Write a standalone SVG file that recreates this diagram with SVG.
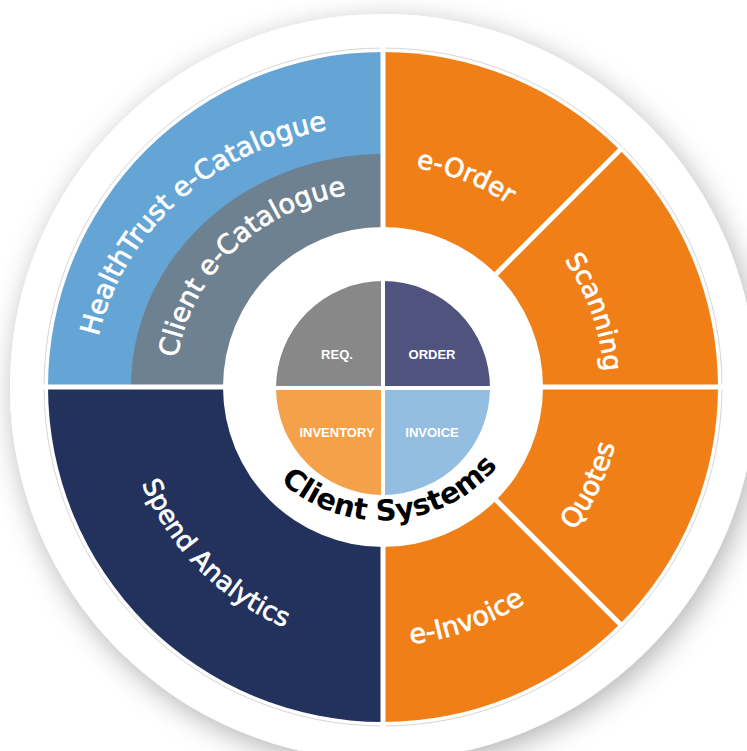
<svg xmlns="http://www.w3.org/2000/svg" width="747" height="751" viewBox="0 0 747 751">
  <defs>
    <filter id="shadow" x="-20%" y="-20%" width="140%" height="140%">
      <feDropShadow dx="4" dy="7" stdDeviation="14" flood-color="#000" flood-opacity="0.3"/>
    </filter>
    <path id="p-healthtrust" d="M183.9,580.1 A292,264 0 0 1 582.1,193.9"/>
    <path id="p-clientcat" d="M241.1,529.6 A208,195 0 0 1 524.9,244.4"/>
    <path id="p-eorder" d="M173.7,304.5 A225,225 0 0 1 592.3,469.5"/>
    <path id="p-scanning" d="M307.6,174.0 A226,226 0 0 1 458.4,600.0"/>
    <path id="p-quotes" d="M278.4,606.3 A243,243 0 0 0 487.6,167.7"/>
    <path id="p-einvoice" d="M136.5,475.7 A262,262 0 0 0 629.5,298.3"/>
    <path id="p-spend" d="M197.7,200.4 A263,263 0 0 0 568.3,573.6"/>
    <path id="p-clientsys" d="M233.4,397.5 A151,151 0 0 0 532.6,376.5"/>
  </defs>
  <style>
    .lbl { font-family: "DejaVu Sans", "Liberation Sans", sans-serif; fill: #ffffff; stroke: #ffffff; stroke-width: 0.7px; }
    .inner { font-family: "Liberation Sans", Arial, sans-serif; font-weight: bold; font-size: 13px; fill: #ffffff; text-anchor: middle; }
    .gap { stroke: #ffffff; stroke-width: 5; fill: none; }
    .gap2 { stroke: #ffffff; stroke-width: 4; fill: none; }
  </style>
  <rect width="747" height="751" fill="#ffffff"/>
  <g id="backdrop">
    <circle cx="383" cy="387" r="373" fill="#ffffff" filter="url(#shadow)"/>
    <circle cx="383" cy="387" r="339" fill="none" stroke="#d6d6d6" stroke-width="1"/>
  </g>

  <g id="healthtrust-ecatalogue">
    <path d="M383,387 L48,387 A335,335 0 0 1 383,52 Z" fill="#65A5D5"/>
    <text class="lbl" font-size="27"><textPath href="#p-healthtrust" startOffset="50%" text-anchor="middle">HealthTrust e-Catalogue</textPath></text>
  </g>
  <g id="client-ecatalogue">
    <path d="M383,387 L131,387 A252,233 0 0 1 383,154 Z" fill="#6E8190"/>
    <text class="lbl" font-size="27"><textPath href="#p-clientcat" startOffset="50%" text-anchor="middle">Client e-Catalogue</textPath></text>
  </g>
  <g id="eorder">
    <path d="M383,387 L383,52 A335,335 0 0 1 619.9,150.1 Z" fill="#F07F17"/>
    <text class="lbl" font-size="26"><textPath href="#p-eorder" startOffset="50%" text-anchor="middle">e-Order</textPath></text>
  </g>
  <g id="scanning">
    <path d="M383,387 L619.9,150.1 A335,335 0 0 1 718,387 Z" fill="#F07F17"/>
    <text class="lbl" font-size="26"><textPath href="#p-scanning" startOffset="50%" text-anchor="middle">Scanning</textPath></text>
  </g>
  <g id="quotes">
    <path d="M383,387 L718,387 A335,335 0 0 1 619.9,623.9 Z" fill="#F07F17"/>
    <text class="lbl" font-size="27"><textPath href="#p-quotes" startOffset="50%" text-anchor="middle">Quotes</textPath></text>
  </g>
  <g id="einvoice">
    <path d="M383,387 L619.9,623.9 A335,335 0 0 1 383,722 Z" fill="#F07F17"/>
    <text class="lbl" font-size="27"><textPath href="#p-einvoice" startOffset="50%" text-anchor="middle">e-Invoice</textPath></text>
  </g>
  <g id="spend-analytics">
    <path d="M383,387 L383,722 A335,335 0 0 1 48,387 Z" fill="#22325C"/>
    <text class="lbl" font-size="26"><textPath href="#p-spend" startOffset="50%" text-anchor="middle">Spend Analytics</textPath></text>
  </g>

  <g id="connectors">
    <line class="gap" x1="383" y1="45" x2="383" y2="729"/>
    <line class="gap" x1="41" y1="387" x2="725" y2="387"/>
    <line class="gap" x1="496.1" y1="273.9" x2="622" y2="148"/>
    <line class="gap" x1="496.1" y1="500.1" x2="622" y2="626"/>
  </g>

  <g id="client-systems">
    <circle cx="383" cy="387" r="160" fill="#ffffff"/>
    <text font-family="DejaVu Sans, Liberation Sans, sans-serif" font-weight="bold" font-size="29" fill="#000000"><textPath href="#p-clientsys" startOffset="50%" text-anchor="middle">Client Systems</textPath></text>
  </g>

  <g id="req">
    <path d="M383,388 L276,388 A107,107 0 0 1 383,281 Z" fill="#888888"/>
    <text class="inner" x="337" y="359">REQ.</text>
  </g>
  <g id="order">
    <path d="M383,388 L383,281 A107,107 0 0 1 490,388 Z" fill="#51537F"/>
    <text class="inner" x="432" y="359">ORDER</text>
  </g>
  <g id="inventory">
    <path d="M383,388 L276,388 A107,107 0 0 0 383,495 Z" fill="#F4A14A"/>
    <text class="inner" x="337" y="437">INVENTORY</text>
  </g>
  <g id="invoice">
    <path d="M383,388 L383,495 A107,107 0 0 0 490,388 Z" fill="#93BDE1"/>
    <text class="inner" x="432" y="437">INVOICE</text>
  </g>
  <g id="inner-gaps">
    <line class="gap2" x1="383" y1="278" x2="383" y2="498"/>
    <line class="gap2" x1="273" y1="388" x2="493" y2="388"/>
  </g>
</svg>
